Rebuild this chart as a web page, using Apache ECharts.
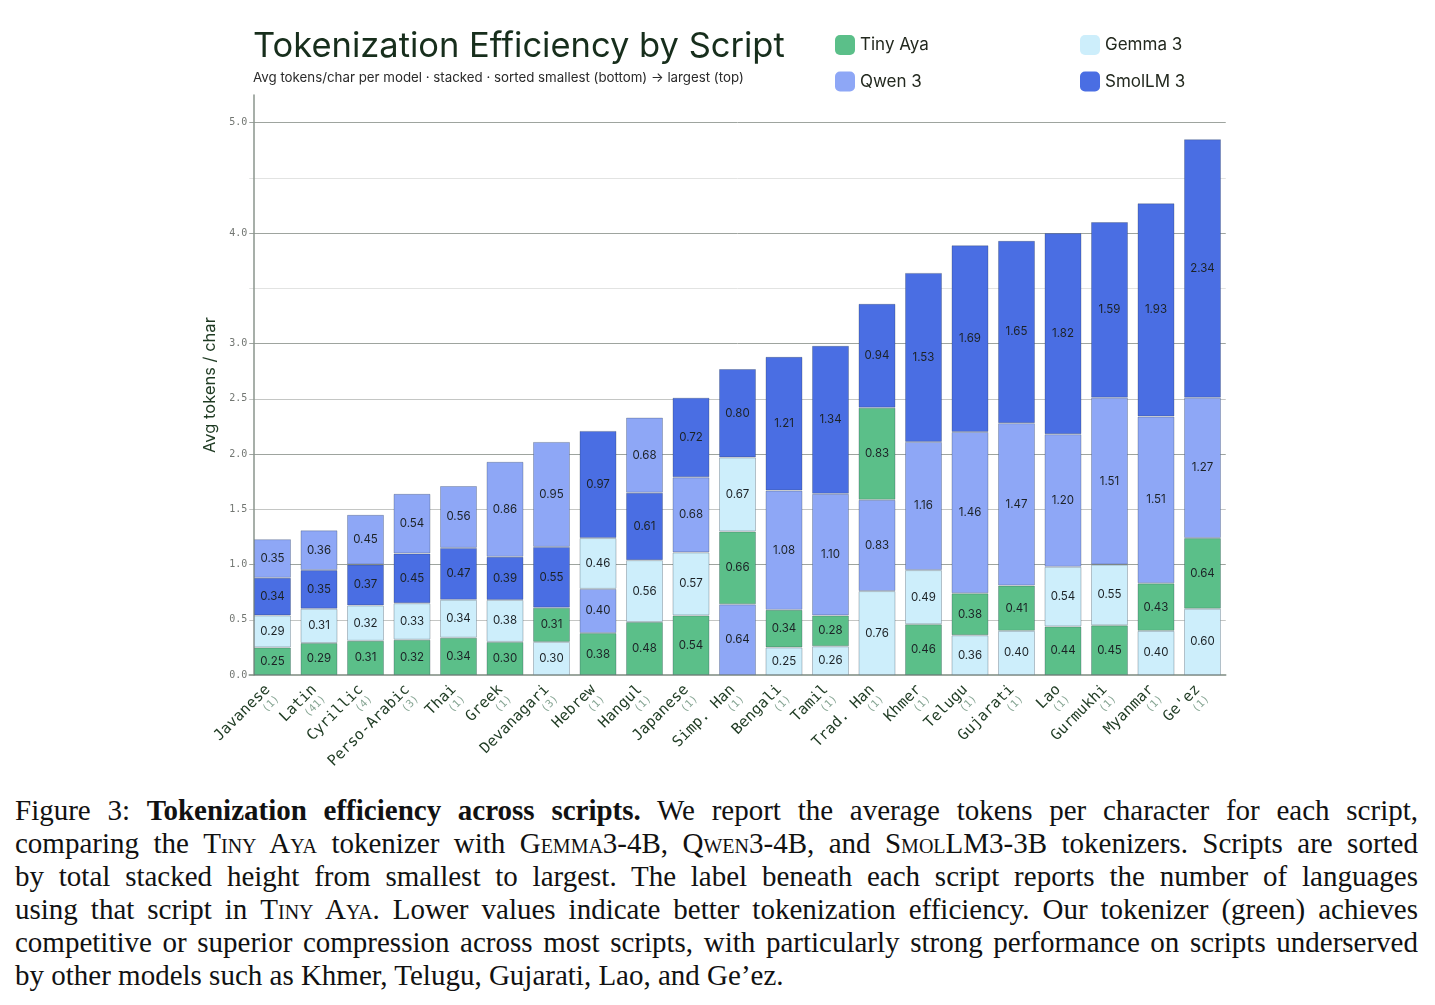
<!DOCTYPE html>
<html>
<head>
<meta charset="utf-8">
<script src="https://cdn.jsdelivr.net/npm/echarts@6/dist/echarts.min.js"></script>
<style>
  html, body { margin: 0; padding: 0; background: #fff; }
  #chart { position: absolute; left: 0; top: 0; width: 1435px; height: 780px; }
  #caption {
    position: absolute; left: 15px; top: 794px; width: 1403px;
    font-family: "Liberation Serif", "DejaVu Serif", serif;
    font-size: 29px; line-height: 33px; color: #111;
  }
  #caption div { text-align: justify; text-align-last: justify; white-space: nowrap; }
  #caption div.last { text-align: left; text-align-last: left; }
  .sc { font-variant: small-caps; }
</style>
</head>
<body>
<div id="chart"></div>
<div id="caption">
  <div>Figure 3: <b>Tokenization efficiency across scripts.</b> We report the average tokens per character for each script,</div>
  <div>comparing the <span class="sc">Tiny Aya</span> tokenizer with <span class="sc">Gemma</span>3-4B, <span class="sc">Qwen</span>3-4B, and <span class="sc">SmolLM</span>3-3B tokenizers. Scripts are sorted</div>
  <div>by total stacked height from smallest to largest. The label beneath each script reports the number of languages</div>
  <div>using that script in <span class="sc">Tiny Aya</span>. Lower values indicate better tokenization efficiency. Our tokenizer (green) achieves</div>
  <div>competitive or superior compression across most scripts, with particularly strong performance on scripts underserved</div>
  <div class="last">by other models such as Khmer, Telugu, Gujarati, Lao, and Ge’ez.</div>
</div>
<script>
const scripts = ['Javanese', 'Latin', 'Cyrillic', 'Perso-Arabic', 'Thai', 'Greek', 'Devanagari', 'Hebrew',
  'Hangul', 'Japanese', 'Simp. Han', 'Bengali', 'Tamil', 'Trad. Han', 'Khmer', 'Telugu', 'Gujarati',
  'Lao', 'Gurmukhi', 'Myanmar', "Ge'ez"]
const langCounts = [1, 41, 4, 3, 1, 1, 3, 1, 1, 1, 1, 1, 1, 1, 1, 1, 1, 1, 1, 1, 1]

const models = ['Tiny Aya', 'Gemma 3', 'Qwen 3', 'SmolLM 3']
const tinyAya = [0.25, 0.29, 0.31, 0.32, 0.338, 0.30, 0.31, 0.38, 0.48, 0.54, 0.66, 0.34, 0.28, 0.834, 0.46, 0.38, 0.41, 0.44, 0.45, 0.43, 0.64]
const gemma3 = [0.29, 0.31, 0.32, 0.33, 0.343, 0.38, 0.30, 0.46, 0.56, 0.57, 0.67, 0.25, 0.26, 0.76, 0.49, 0.36, 0.40, 0.54, 0.55, 0.40, 0.60]
const qwen3 = [0.35, 0.36, 0.45, 0.54, 0.56, 0.86, 0.95, 0.40, 0.68, 0.68, 0.64, 1.08, 1.10, 0.826, 1.16, 1.46, 1.47, 1.20, 1.51, 1.51, 1.27]
const smollm3 = [0.34, 0.35, 0.37, 0.45, 0.47, 0.39, 0.55, 0.97, 0.61, 0.72, 0.80, 1.21, 1.34, 0.94, 1.53, 1.69, 1.65, 1.82, 1.59, 1.93, 2.34]
const yTicks = [0.0, 0.5, 1.0, 1.5, 2.0, 2.5, 3.0, 4.0, 5.0]

const colors = ['#5bbf89', '#cdeefb', '#8ea7f6', '#4a6ee3']
const modelData = [tinyAya, gemma3, qwen3, smollm3]

// one series per rank so every bar is stacked smallest (bottom) -> largest (top)
const rankData = [[], [], [], []]
scripts.forEach((s, i) => {
  const vals = modelData.map((arr, m) => ({ m: m, v: arr[i] }))
  vals.sort((a, b) => a.v - b.v)
  vals.forEach((o, r) => {
    rankData[r].push({ value: o.v, itemStyle: { color: colors[o.m] } })
  })
})

const series = rankData.map((d, r) => ({
  name: 'rank' + r,
  type: 'bar',
  stack: 'total',
  barWidth: 37,
  data: d,
  itemStyle: { borderColor: 'rgba(40,55,70,0.28)', borderWidth: 1 },
  label: {
    show: true,
    position: 'inside',
    color: '#1c2226',
    fontFamily: 'Inter',
    fontSize: 11.5,
    formatter: p => p.value.toFixed(2)
  }
}))
// legend-only series
models.forEach((m, k) => {
  series.push({ name: m, type: 'bar', stack: 'total', data: [], itemStyle: { color: colors[k] } })
})

const gridColors = ['transparent', '#c4c6c4', '#9ea49f', '#c4c6c4', '#9ea49f', '#c4c6c4', '#9ea49f', '#e2e3e2', '#9ea49f', '#e2e3e2', '#9ea49f']

const legendText = { fontFamily: 'Inter', fontSize: 17, color: '#23291f' }

const chart = echarts.init(document.getElementById('chart'))
chart.setOption({
  animation: false,
  backgroundColor: '#fff',
  title: {
    text: 'Tokenization Efficiency by Script',
    subtext: 'Avg tokens/char per model · stacked · sorted smallest (bottom) → largest (top)',
    left: 248,
    top: 24,
    itemGap: 7,
    textStyle: { fontFamily: 'Inter', fontWeight: 400, fontSize: 34.5, color: '#172e1c' },
    subtextStyle: { fontFamily: 'Inter', fontSize: 13.3, color: '#2a2a2a' }
  },
  legend: [
    {
      data: ['Tiny Aya', 'Qwen 3'], left: 830, top: 30, orient: 'vertical',
      icon: 'roundRect', itemWidth: 20, itemHeight: 20, itemGap: 16.5, textStyle: legendText
    },
    {
      data: ['Gemma 3', 'SmolLM 3'], left: 1075, top: 30, orient: 'vertical',
      icon: 'roundRect', itemWidth: 20, itemHeight: 20, itemGap: 16.5, textStyle: legendText
    }
  ],
  grid: { left: 249.25, width: 976.5, top: 95, height: 581 },
  xAxis: {
    type: 'category',
    data: scripts,
    axisLine: { lineStyle: { color: '#7d8a80', width: 1.5 } },
    axisTick: { show: false },
    axisLabel: {
      interval: 0,
      rotate: 45,
      margin: 17,
      formatter: (v, i) => '{n|' + v + '}\n{c|(' + langCounts[i] + ')}',
      rich: {
        n: { fontFamily: 'DejaVu Sans Mono', fontSize: 15, color: '#1e3a22', lineHeight: 15 },
        c: { fontFamily: 'DejaVu Sans Mono', fontSize: 10.5, color: '#86a593', lineHeight: 13 }
      }
    }
  },
  yAxis: {
    type: 'value',
    min: 0,
    max: 5.25,
    interval: 0.5,
    offset: -4,
    name: 'Avg tokens / char',
    nameLocation: 'middle',
    nameGap: 20,
    nameTextStyle: { fontFamily: 'Inter', fontSize: 16.5, color: '#1e3a22' },
    axisLine: { show: true, lineStyle: { color: '#8a948c', width: 1.5 } },
    axisTick: { show: false },
    axisLabel: {
      showMaxLabel: false,
      margin: 6,
      fontFamily: 'DejaVu Sans Mono',
      fontSize: 10,
      color: '#727672',
      formatter: v => (yTicks.includes(v) ? v.toFixed(1) : '')
    },
    splitLine: { showMaxLine: false, lineStyle: { color: gridColors, width: 1 } }
  },
  series: series
})
</script>
</body>
</html>
